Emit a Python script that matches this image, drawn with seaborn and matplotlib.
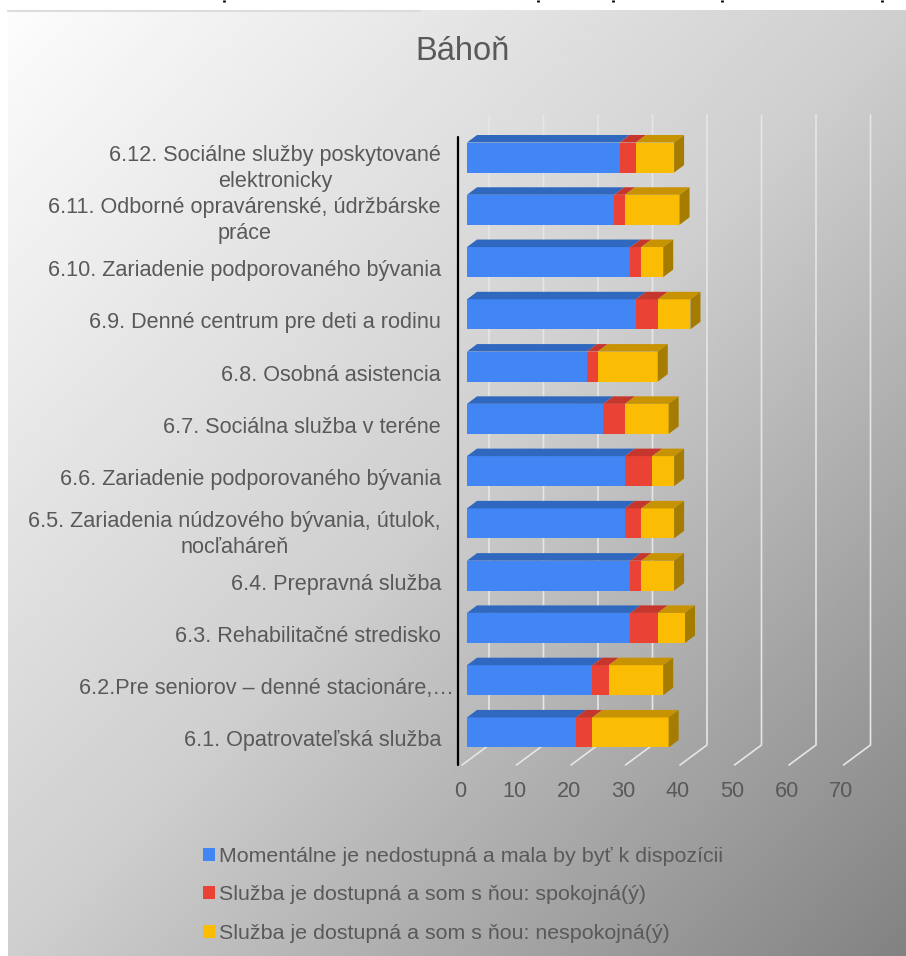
import numpy as np
import pandas as pd
import matplotlib
matplotlib.use("Agg")
import matplotlib.pyplot as plt
from matplotlib.patches import Polygon
from matplotlib.transforms import Affine2D
import seaborn as sns

# ---------- data ----------
categories = [
    "6.12. Sociálne služby poskytované\nelektronicky",
    "6.11. Odborné opravárenské, údržbárske\npráce",
    "6.10. Zariadenie podporovaného bývania",
    "6.9. Denné centrum pre deti a rodinu",
    "6.8. Osobná asistencia",
    "6.7. Sociálna služba v teréne",
    "6.6. Zariadenie podporovaného bývania",
    "6.5. Zariadenia núdzového bývania, útulok,\nnocľaháreň",
    "6.4. Prepravná služba",
    "6.3. Rehabilitačné stredisko",
    "6.2.Pre seniorov – denné stacionáre,…",
    "6.1. Opatrovateľská služba",
]
unavailable = [28, 27, 30, 31, 22, 25, 29, 29, 30, 30, 23, 20]
satisfied = [3, 2, 2, 4, 2, 4, 5, 3, 2, 5, 3, 3]
dissatisfied = [7, 10, 4, 6, 11, 8, 4, 6, 6, 5, 10, 14]
series_names = [
    "Momentálne je nedostupná a mala by byť k dispozícii",
    "Služba je dostupná a som s ňou: spokojná(ý)",
    "Služba je dostupná a som s ňou: nespokojná(ý)",
]
x_ticks = [0, 10, 20, 30, 40, 50, 60, 70]
title = "Báhoň"

# ---------- style ----------
W, H = 906, 956
PX_U = 5.45    # pixels per value unit
PX_C = 52.2    # pixels per category
FRONT = ["#4285F4", "#EA4335", "#FBBC04"]
TOP = ["#2F68BE", "#C5372C", "#C79302"]
SIDE = "#A67C00"
TXT = "#595959"
FS = 15.6
sns.set_theme(style="white")
plt.rcParams["font.family"] = ["Liberation Sans", "DejaVu Sans"]

fig = plt.figure(figsize=(W / 100, H / 100), dpi=100, facecolor="white")

# gradient panel
bg = fig.add_axes([0, 0, 1, 1], zorder=0)
xx, yy = np.meshgrid(np.linspace(0, 1, 300), np.linspace(0, 1, 300))
t = (xx + yy) / 2
grey = np.interp(t, [0, 0.5, 1], [0.99, 0.81, 0.51])
bg.imshow(grey, cmap="gray", vmin=0, vmax=1, extent=[8, W, H, 10], aspect="auto", interpolation="bilinear")
bg.set_xlim(0, W)
bg.set_ylim(H, 0)
bg.axis("off")
bg.plot([8, 420], [10.5, 10.5], color="#dcdcdc", lw=1.5)
# specks left by the heading cropped above the chart (not legible text)
for px in (224, 538, 613, 722, 882):
    bg.plot([px, px], [0, 2], color="black", lw=2, solid_capstyle="butt")

# plot axes (value 0 at x=467 px; first bar centred at y=157.5 px)
ax = fig.add_axes([467 / W, 1 - 758.6 / H, 75 * PX_U / W, 627.2 / H], zorder=1)
ax.patch.set_alpha(0)

base = pd.DataFrame({"Kategória": categories,
                     "a": unavailable, "b": satisfied, "c": dissatisfied})
base["ab"] = base["a"] + base["b"]
base["abc"] = base["ab"] + base["c"]
BAR_H = 30 / PX_C
for col, colr, lab in zip(["abc", "ab", "a"], FRONT[::-1], series_names[::-1]):
    sns.barplot(data=base, y="Kategória", x=col, color=colr, saturation=1,
                width=BAR_H, label=lab, ax=ax, zorder=3, legend=True, linewidth=0)
if ax.get_legend():
    ax.get_legend().remove()
ax.set_xlim(0, 75)
ax.set_ylim(11.5, -0.5)
ax.set_xlabel("")
ax.set_ylabel("")
sns.despine(ax=ax, left=True, bottom=True)

# pseudo-3D faces
dx, dy = 10 / PX_U, 7.5 / PX_C
for i in range(len(categories)):
    y_top = i - BAR_H / 2
    y_bot = i + BAR_H / 2
    edges = [0, unavailable[i], unavailable[i] + satisfied[i],
             unavailable[i] + satisfied[i] + dissatisfied[i]]
    for k in range(3):
        l, r = edges[k], edges[k + 1]
        ax.add_patch(Polygon([(l, y_top), (r, y_top), (r + dx, y_top - dy), (l + dx, y_top - dy)],
                             closed=True, fc=TOP[k], ec="none", zorder=4 + k * 0.1, clip_on=False))
    r = edges[-1]
    ax.add_patch(Polygon([(r, y_top), (r + dx, y_top - dy), (r + dx, y_bot - dy), (r, y_bot)],
                         closed=True, fc=SIDE, ec="none", zorder=4.5, clip_on=False))

# floor + back wall grid lines
fx, fy = -5 / PX_U, 11.5 + 6.4 / PX_C
wx, wy = 27 / PX_U, 20 / PX_C
wall_top = -0.5 - 16.4 / PX_C
for v in x_ticks:
    ax.plot([v + fx, v + fx + wx, v + fx + wx], [fy, fy - wy, wall_top],
            color="#e6e6e6", lw=1.2, zorder=1, clip_on=False, solid_joinstyle="miter")
# black category axis
ax.plot([-8.5 / PX_U] * 2, [fy, -0.5 + 5.6 / PX_C], color="black", lw=1.6, zorder=2, clip_on=False)

# ticks
ax.set_xticks(x_ticks)
ax.set_yticks(range(len(categories)))
ax.set_yticklabels(categories)
ax.tick_params(axis="x", length=0, pad=16, labelsize=FS, labelcolor=TXT)
ax.tick_params(axis="y", length=0, pad=18.7, labelsize=FS, labelcolor=TXT)
for lab in ax.get_xticklabels():
    lab.set_transform(lab.get_transform() + Affine2D().translate(-7, 0))
for lab in ax.get_yticklabels():
    shift = 13 if lab.get_text().endswith("…") else 0
    lab.set_transform(lab.get_transform() + Affine2D().translate(shift, -6))
    lab.set_multialignment("center")
    lab.set_linespacing(1.3)

# title
fig.text(462 / W, 1 - 52 / H, title, ha="center", va="center", fontsize=23.5, color=TXT)

# legend
h, l = ax.get_legend_handles_labels()
order = [series_names.index(s) for s in l]
pairs = sorted(zip(order, h, l))
fig.legend([p[1] for p in pairs], [p[2] for p in pairs], loc="upper left",
           bbox_to_anchor=(203 / W, 1 - 847 / H), frameon=False, fontsize=15.4,
           labelcolor=TXT, handlelength=0.56, handleheight=0.56, handletextpad=0.2,
           labelspacing=0.91, borderpad=0, borderaxespad=0)

fig.savefig("out.png", dpi=100, facecolor="white")
